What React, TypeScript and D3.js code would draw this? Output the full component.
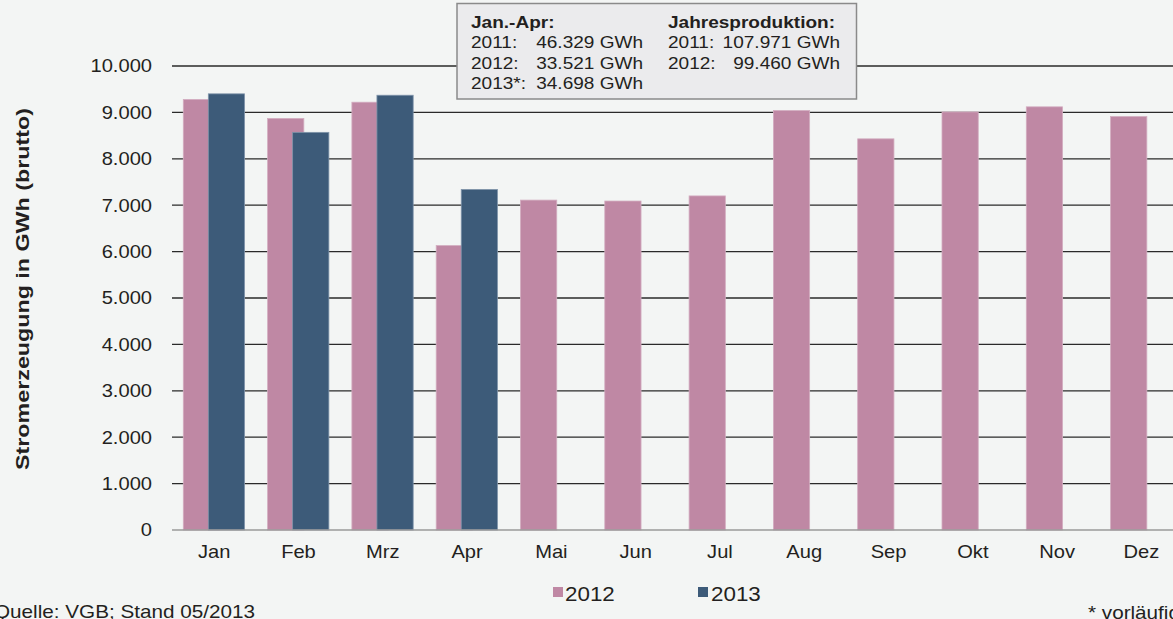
import React from "react";
import * as d3 from "d3";

// monthly gross electricity generation in GWh
const months = ["Jan", "Feb", "Mrz", "Apr", "Mai", "Jun", "Jul", "Aug", "Sep", "Okt", "Nov", "Dez"];
const values2012 = [9280, 8870, 9220, 6130, 7110, 7090, 7200, 9040, 8430, 9010, 9120, 8910];
const values2013 = [9400, 8570, 9370, 7340];
const yTicks = [0, 1000, 2000, 3000, 4000, 5000, 6000, 7000, 8000, 9000, 10000];
const janAprRows = [
  ["2011:", "46.329 GWh"],
  ["2012:", "33.521 GWh"],
  ["2013*:", "34.698 GWh"],
];
const yearRows = [
  ["2011:", "107.971 GWh"],
  ["2012:", "99.460 GWh"],
];

const width = 1173;
const height = 619;
const pink = "#bf88a4";
const blue = "#3d5b79";
const ink = "#231f20";

const fmt = (v: number) => d3.format(",")(v).replace(/,/g, ".");

// text that is a bit wider than plain Arial, like the source
const T = ({ x, y, size, anchor = "start", weight = "normal", sx = 1.15, children }: any) => (
  <text
    transform={`translate(${x},${y}) scale(${sx},1)`}
    fontSize={size}
    textAnchor={anchor}
    fontWeight={weight}
    fill={ink}
  >
    {children}
  </text>
);

const App = () => {
  const margin = { left: 172, top: 66, bottom: 530 };
  const band = 84.3;

  const x = d3
    .scaleBand()
    .domain(months)
    .range([margin.left, margin.left + band * months.length])
    .paddingInner(0)
    .paddingOuter(0);

  const y = d3.scaleLinear().domain([0, 10000]).range([margin.bottom, margin.top]);

  const bw = x.bandwidth();
  const barW = bw * 0.43;

  return (
    <svg
      width={width}
      height={height}
      style={{ position: "absolute", left: 0, top: 0, display: "block" }}
      fontFamily="'Liberation Sans', Arial, sans-serif"
    >
      <rect x={0} y={0} width={width} height={height} fill="#f3f5f4" />

      {/* grid lines */}
      {yTicks.filter((t) => t > 0).map((t) => (
        <line key={t} x1={margin.left} x2={width} y1={y(t)} y2={y(t)} stroke="#2a2a2a" strokeWidth={1.3} />
      ))}

      {/* bars 2012 */}
      {values2012.map((v, i) => (
        <rect
          key={"a" + i}
          x={(x(months[i]) as number) + bw * 0.134}
          y={y(v)}
          width={barW}
          height={y(0) - y(v)}
          fill={pink}
          stroke="#d3adc0"
          strokeWidth={0.8}
        />
      ))}
      {/* bars 2013 */}
      {values2013.map((v, i) => (
        <rect
          key={"b" + i}
          x={(x(months[i]) as number) + bw * 0.431}
          y={y(v)}
          width={barW}
          height={y(0) - y(v)}
          fill={blue}
          stroke="#8095ab"
          strokeWidth={0.8}
        />
      ))}

      {/* baseline */}
      <line x1={margin.left} x2={width} y1={y(0)} y2={y(0)} stroke="#9a9a9a" strokeWidth={1.5} />

      {/* y tick labels */}
      {yTicks.map((t) => (
        <T key={t} x={152} y={y(t) + 6.3} size={17.5} anchor="end">
          {fmt(t)}
        </T>
      ))}

      {/* x tick labels */}
      {months.map((m) => (
        <T key={m} x={(x(m) as number) + bw / 2} y={558} size={17.5} anchor="middle">
          {m}
        </T>
      ))}

      {/* y axis title */}
      <text
        transform={`translate(29,289) rotate(-90)`}
        fontSize={18.5}
        fontWeight="bold"
        textAnchor="middle"
        fill={ink}
        textLength={362}
        lengthAdjust="spacingAndGlyphs"
      >
        Stromerzeugung in GWh (brutto)
      </text>

      {/* info box */}
      <rect x={457} y={3.5} width={399.5} height={95.5} fill="#ebebed" stroke="#8a8a8a" strokeWidth={1.5} />
      <T x={471} y={28} size={17} weight="bold" sx={1.12}>
        Jan.-Apr:
      </T>
      {janAprRows.map((r, i) => (
        <g key={"j" + i}>
          <T x={471} y={48.3 + i * 20.5} size={17} sx={1.12}>
            {r[0]}
          </T>
          <T x={643} y={48.3 + i * 20.5} size={17} anchor="end" sx={1.12}>
            {r[1]}
          </T>
        </g>
      ))}
      <T x={668} y={28} size={17} weight="bold" sx={1.12}>
        Jahresproduktion:
      </T>
      {yearRows.map((r, i) => (
        <g key={"y" + i}>
          <T x={668} y={48.3 + i * 20.5} size={17} sx={1.12}>
            {r[0]}
          </T>
          <T x={840} y={48.3 + i * 20.5} size={17} anchor="end" sx={1.12}>
            {r[1]}
          </T>
        </g>
      ))}

      {/* legend */}
      <rect x={553} y={587} width={10} height={10} fill={pink} />
      <T x={565} y={600.5} size={20} sx={1.12}>
        2012
      </T>
      <rect x={698} y={587} width={10} height={10} fill={blue} />
      <T x={711} y={600.5} size={20} sx={1.12}>
        2013
      </T>

      {/* footer */}
      <T x={-6} y={618} size={18} sx={1.15}>
        Quelle: VGB; Stand 05/2013
      </T>
      <T x={1088} y={619} size={18} sx={1.15}>
        * vorläufig
      </T>
    </svg>
  );
};

export default App;
